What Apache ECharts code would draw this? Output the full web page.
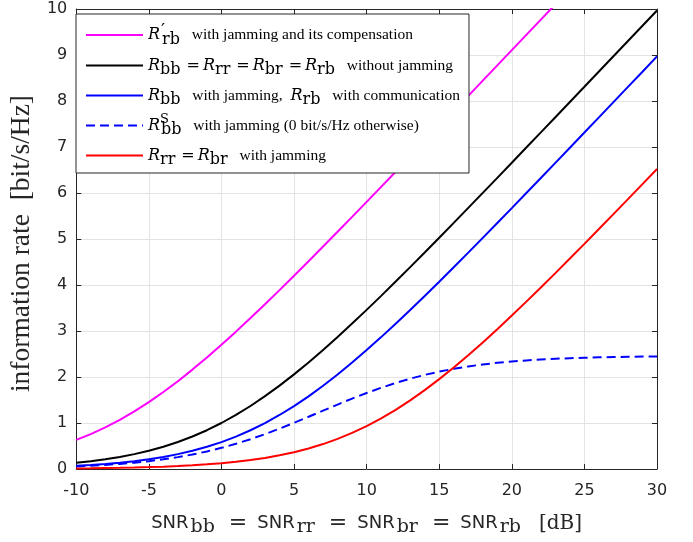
<!DOCTYPE html>
<html>
<head>
<meta charset="utf-8">
<script src="https://cdn.jsdelivr.net/npm/echarts@6/dist/echarts.min.js"></script>
<style>
  html, body { margin: 0; padding: 0; background: #fff; }
  #chart { width: 693px; height: 542px; }
</style>
</head>
<body>
<div id="chart"></div>
<script>
// SNR in dB, one point per dB
const snrDb = [-10,-9,-8,-7,-6,-5,-4,-3,-2,-1,0,1,2,3,4,5,6,7,8,9,10,
  11,12,13,14,15,16,17,18,19,20,21,22,23,24,25,26,27,28,29,30];

// rates [bit/s/Hz]
const rateCompensated = [0.632,0.759,0.904,1.069,1.252,1.454,1.673,1.909,2.161,2.425,2.700,
  2.986,3.281,3.582,3.889,4.201,4.517,4.836,5.158,5.482,5.807,6.134,6.462,6.791,7.121,7.451,
  7.781,8.112,8.443,8.774,9.106,9.438,9.769,10.101];
const rateNoJam = [0.138,0.171,0.212,0.262,0.323,0.396,0.484,0.586,0.706,0.843,1.000,
  1.176,1.370,1.583,1.812,2.057,2.317,2.588,2.870,3.161,3.459,3.764,4.075,4.389,4.707,5.028,
  5.351,5.676,6.002,6.330,6.658,6.988,7.317,7.648,7.978,8.309,8.641,8.972,9.304,9.635,9.967];
const rateBbJam = [0.070,0.088,0.110,0.137,0.171,0.212,0.262,0.323,0.396,0.483,0.585,
  0.704,0.842,0.998,1.174,1.368,1.580,1.810,2.055,2.314,2.585,2.867,3.158,3.456,3.761,4.071,
  4.386,4.704,5.025,5.348,5.672,5.999,6.326,6.655,6.984,7.314,7.644,7.975,8.306,8.637,8.969];
const rateSecure = [0.057,0.072,0.089,0.111,0.138,0.171,0.211,0.258,0.315,0.382,0.460,
  0.548,0.648,0.758,0.877,1.003,1.135,1.268,1.401,1.530,1.652,1.766,1.870,1.964,2.046,2.117,
  2.178,2.230,2.273,2.308,2.337,2.361,2.381,2.396,2.409,2.419,2.427,2.434,2.439,2.443,2.447];
const rateRrJam = [0.013,0.016,0.021,0.026,0.033,0.041,0.051,0.064,0.080,0.101,0.126,
  0.156,0.194,0.241,0.297,0.365,0.446,0.542,0.654,0.784,0.933,1.101,1.287,1.493,1.715,1.954,
  2.208,2.474,2.752,3.039,3.335,3.638,3.946,4.259,4.575,4.895,5.217,5.541,5.867,6.194,6.522];

const xTicks = [-10, 30, 5];
const yTicks = [0, 10, 1];

const legendText = {
  comp: '{i|R}{p|′}{s|rb}{t|  with jamming and its compensation}',
  nojam: '{i|R}{s|bb}{e|=}{i|R}{s|rr}{e|=}{i|R}{s|br}{e|=}{i|R}{s|rb}{t|  without jamming}',
  bb: '{i|R}{s|bb}{t|  with jamming,  }{i|R}{s|rb}{t|  with communication}',
  sec: '{i|R}{u|S}{s|bb}{t|  with jamming (0 bit/s/Hz otherwise)}',
  rr: '{i|R}{s|rr}{e|=}{i|R}{s|br}{t|  with jamming}'
};

function pairs(ys) {
  return ys.map((y, k) => [snrDb[k], y]);
}

function line(name, ys, color, type) {
  return {
    name: name,
    type: 'line',
    data: pairs(ys),
    symbol: 'none',
    clip: true,
    lineStyle: { color: color, width: 2, type: type || 'solid' },
    itemStyle: { color: color }
  };
}

const serif = 'Liberation Serif';
const mathSerif = 'DejaVu Serif';
const sans = 'DejaVu Sans';
const axisColor = '#262626';

const chart = echarts.init(document.getElementById('chart'));
chart.setOption({
  animation: false,
  backgroundColor: '#fff',
  grid: { left: 71, right: 36, top: 9, bottom: 71, containLabel: false },
  legend: {
    orient: 'vertical',
    left: 76,
    top: 14,
    padding: [8, 9, 5, 9],
    itemWidth: 57,
    itemHeight: 14,
    itemGap: 5,
    backgroundColor: '#fff',
    borderColor: axisColor,
    borderWidth: 1,
    borderRadius: 0,
    itemStyle: { opacity: 0 },
    data: ['comp', 'nojam', 'bb', 'sec', 'rr'],
    formatter: (n) => legendText[n],
    textStyle: {
      color: '#000',
      lineHeight: 20,
      rich: {
        i: { fontFamily: mathSerif, fontStyle: 'italic', fontSize: 16, lineHeight: 20 },
        s: { fontFamily: mathSerif, fontSize: 16, padding: [9, 4, 0, 0], lineHeight: 20 },
        u: { fontFamily: mathSerif, fontSize: 13, padding: [0, 0, 12, 0], width: 1, lineHeight: 20 },
        p: { fontFamily: 'DejaVu Sans', fontSize: 18, padding: [0, 0, 8, 1], width: 1, lineHeight: 20 },
        e: { fontFamily: mathSerif, fontSize: 16, padding: [0, 3, 0, 2], lineHeight: 20 },
        t: { fontFamily: serif, fontSize: 15.5, lineHeight: 20 }
      }
    }
  },
  xAxis: [{
    type: 'value',
    min: xTicks[0], max: xTicks[1], interval: xTicks[2],
    name: '{n|SNR}{s|bb}{e|=}{n|SNR}{s|rr}{e|=}{n|SNR}{s|br}{e|=}{n|SNR}{s|rb}{d|[dB]}',
    nameLocation: 'middle',
    nameGap: 41,
    nameTextStyle: {
      color: axisColor,
      rich: {
        n: { fontFamily: sans, fontSize: 18, color: axisColor },
        s: { fontFamily: mathSerif, fontSize: 19, padding: [8, 3, 0, 2], color: axisColor },
        e: { fontFamily: mathSerif, fontSize: 22, padding: [0, 10, 0, 11], color: axisColor },
        d: { fontFamily: mathSerif, fontSize: 20, padding: [0, 0, 0, 15], color: axisColor }
      }
    },
    axisLine: { show: true, onZero: false, lineStyle: { color: axisColor, width: 1 } },
    axisTick: { show: true, inside: true, length: 5, lineStyle: { color: axisColor } },
    axisLabel: { color: axisColor, fontFamily: sans, fontSize: 16, margin: 14 },
    splitLine: { show: true, lineStyle: { color: '#e3e3e3', width: 1 } }
  }, {
    type: 'value', position: 'top',
    min: xTicks[0], max: xTicks[1], interval: xTicks[2],
    axisLine: { show: true, onZero: false, lineStyle: { color: axisColor, width: 1 } },
    axisTick: { show: true, inside: true, length: 5, lineStyle: { color: axisColor } },
    axisLabel: { show: false },
    splitLine: { show: false }
  }],
  yAxis: [{
    type: 'value',
    min: yTicks[0], max: yTicks[1], interval: yTicks[2],
    name: 'information rate  [bit/s/Hz]',
    nameLocation: 'middle',
    nameGap: 29,
    nameTextStyle: { color: axisColor, fontFamily: serif, fontSize: 27.5, padding: [0, 9, 0, 0] },
    axisLine: { show: true, onZero: false, lineStyle: { color: axisColor, width: 1 } },
    axisTick: { show: true, inside: true, length: 5, lineStyle: { color: axisColor } },
    axisLabel: { color: axisColor, fontFamily: sans, fontSize: 16, margin: 9 },
    splitLine: { show: true, lineStyle: { color: '#e3e3e3', width: 1 } }
  }, {
    type: 'value', position: 'right',
    min: yTicks[0], max: yTicks[1], interval: yTicks[2],
    axisLine: { show: true, onZero: false, lineStyle: { color: axisColor, width: 1 } },
    axisTick: { show: true, inside: true, length: 5, lineStyle: { color: axisColor } },
    axisLabel: { show: false },
    splitLine: { show: false }
  }],
  series: [
    line('comp', rateCompensated, '#ff00ff'),
    line('nojam', rateNoJam, '#000000'),
    line('bb', rateBbJam, '#0000ff'),
    line('sec', rateSecure, '#0000ff', [9, 5]),
    line('rr', rateRrJam, '#ff0000')
  ]
});
</script>
</body>
</html>
